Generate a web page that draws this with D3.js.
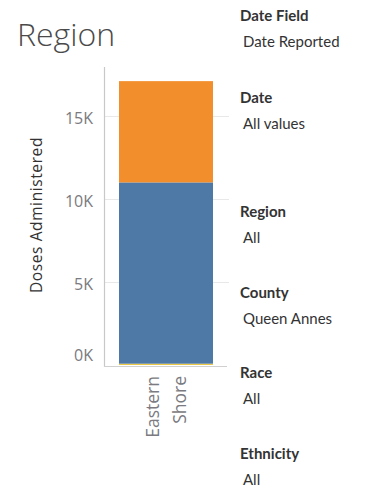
<!DOCTYPE html>
<html>
<head>
<meta charset="utf-8">
<script src="https://cdn.jsdelivr.net/npm/d3@7/dist/d3.min.js"></script>
<style>
  html, body { margin: 0; padding: 0; background: #fff; }
  svg { display: block; }
</style>
</head>
<body>
<svg id="chart" width="381" height="488"></svg>
<script>
// Region totals: stacked doses by series, bottom to top
const regions = ["Eastern Shore"];
const regionLabelLines = [["Eastern", "Shore"]];
const seriesNames = ["Third", "First", "Second"];
const seriesColors = ["#EDC948", "#4E79A7", "#F28E2B"];
const seriesValues = [
  [80],     // bottom sliver
  [10920],  // middle
  [6100]    // top
];
const yTicks = [0, 5000, 10000, 15000];
const yTickLabels = ["0K", "5K", "10K", "15K"];

// Filter cards on the right
const filterTitles = ["Date Field", "Date", "Region", "County", "Race", "Ethnicity"];
const filterValues = ["Date Reported", "All values", "All", "Queen Annes", "All", "All"];
const filterBaselines = [21, 103, 217, 298, 378, 459];

const svg = d3.select("#chart");

// Sheet title
svg.append("text")
  .attr("x", 17).attr("y", 46)
  .attr("font-family", "'Open Sans', sans-serif")
  .attr("font-weight", 300)
  .attr("font-size", 32)
  .attr("fill", "#4a4a4a")
  .text("Region");

const plot = { left: 104, right: 229, top: 67, bottom: 365 };

// 15K gridline sits at y=116, zero at the bottom of the pane
const y = d3.scaleLinear()
  .domain([0, 15000 * (plot.bottom - plot.top) / (plot.bottom - 116)])
  .range([plot.bottom, plot.top]);

const x = d3.scaleBand()
  .domain(regions)
  .range([plot.left, plot.right])
  .paddingInner(0)
  .paddingOuter(0);

// Gridlines
svg.append("g")
  .selectAll("line")
  .data(yTicks.slice(1))
  .join("line")
  .attr("x1", plot.left).attr("x2", plot.right)
  .attr("y1", d => Math.round(y(d)) + 0.5).attr("y2", d => Math.round(y(d)) + 0.5)
  .attr("stroke", "#e8e8e8");

// Stacked bars
const rows = regions.map((r, i) => {
  const o = { region: r };
  seriesNames.forEach((s, k) => { o[s] = seriesValues[k][i]; });
  return o;
});
const stacked = d3.stack().keys(seriesNames)(rows);

svg.append("g")
  .selectAll("g")
  .data(stacked)
  .join("g")
  .attr("fill", (d, k) => seriesColors[k])
  .selectAll("rect")
  .data(d => d)
  .join("rect")
  .attr("x", d => x(d.data.region) + 15)
  .attr("width", x.bandwidth() - 31)
  .attr("y", d => y(d[1]))
  .attr("height", d => y(d[0]) - y(d[1]));

// Y axis
const yAxis = d3.axisLeft(y)
  .tickValues(yTicks)
  .tickFormat((d, i) => yTickLabels[i])
  .tickSize(0)
  .tickPadding(11);

const yg = svg.append("g")
  .attr("transform", `translate(${plot.left},0)`)
  .call(yAxis);
yg.select(".domain").remove();
yg.selectAll("text")
  .attr("font-family", "'Open Sans', sans-serif")
  .attr("font-size", 16)
  .attr("fill", "#7a7a80")
  .attr("dy", (d) => d === 0 ? "-0.3em" : "0.45em");

// Axis lines
svg.append("line")
  .attr("x1", plot.left + 0.5).attr("x2", plot.left + 0.5)
  .attr("y1", plot.top).attr("y2", plot.bottom + 2)
  .attr("stroke", "#c8c8c8").attr("stroke-width", 1.2);
svg.append("line")
  .attr("x1", plot.left).attr("x2", plot.right - 2)
  .attr("y1", plot.bottom + 1.5).attr("y2", plot.bottom + 1.5)
  .attr("stroke", "#d0d0d0");

// Y axis title
svg.append("text")
  .attr("transform", `translate(42,${215}) rotate(-90)`)
  .attr("text-anchor", "middle")
  .attr("font-family", "'Open Sans', sans-serif")
  .attr("font-size", 15.5)
  .attr("letter-spacing", 0.6)
  .attr("fill", "#333")
  .text("Doses Administered");

// X category labels, rotated
regions.forEach((r, i) => {
  const lines = regionLabelLines[i];
  const cx = x(r) + x.bandwidth() / 2;
  lines.forEach((ln, j) => {
    svg.append("text")
      .attr("transform", `translate(${cx - 8 + j * 27},${plot.bottom + 11}) rotate(-90)`)
      .attr("text-anchor", "end")
      .attr("font-family", "'Open Sans', sans-serif")
      .attr("font-size", 17.5)
      .attr("fill", "#7a7a80")
      .text(ln);
  });
});

// Filter cards
const cards = svg.append("g");
filterTitles.forEach((t, i) => {
  cards.append("text")
    .attr("x", 240).attr("y", filterBaselines[i])
    .attr("font-family", "Lato, sans-serif")
    .attr("font-weight", "bold")
    .attr("font-size", 15)
    .attr("fill", "#333")
    .text(t);
  cards.append("text")
    .attr("x", 243).attr("y", filterBaselines[i] + 26)
    .attr("font-family", "Lato, sans-serif")
    .attr("font-size", 15)
    .attr("fill", "#333")
    .text(filterValues[i]);
});
</script>
</body>
</html>
